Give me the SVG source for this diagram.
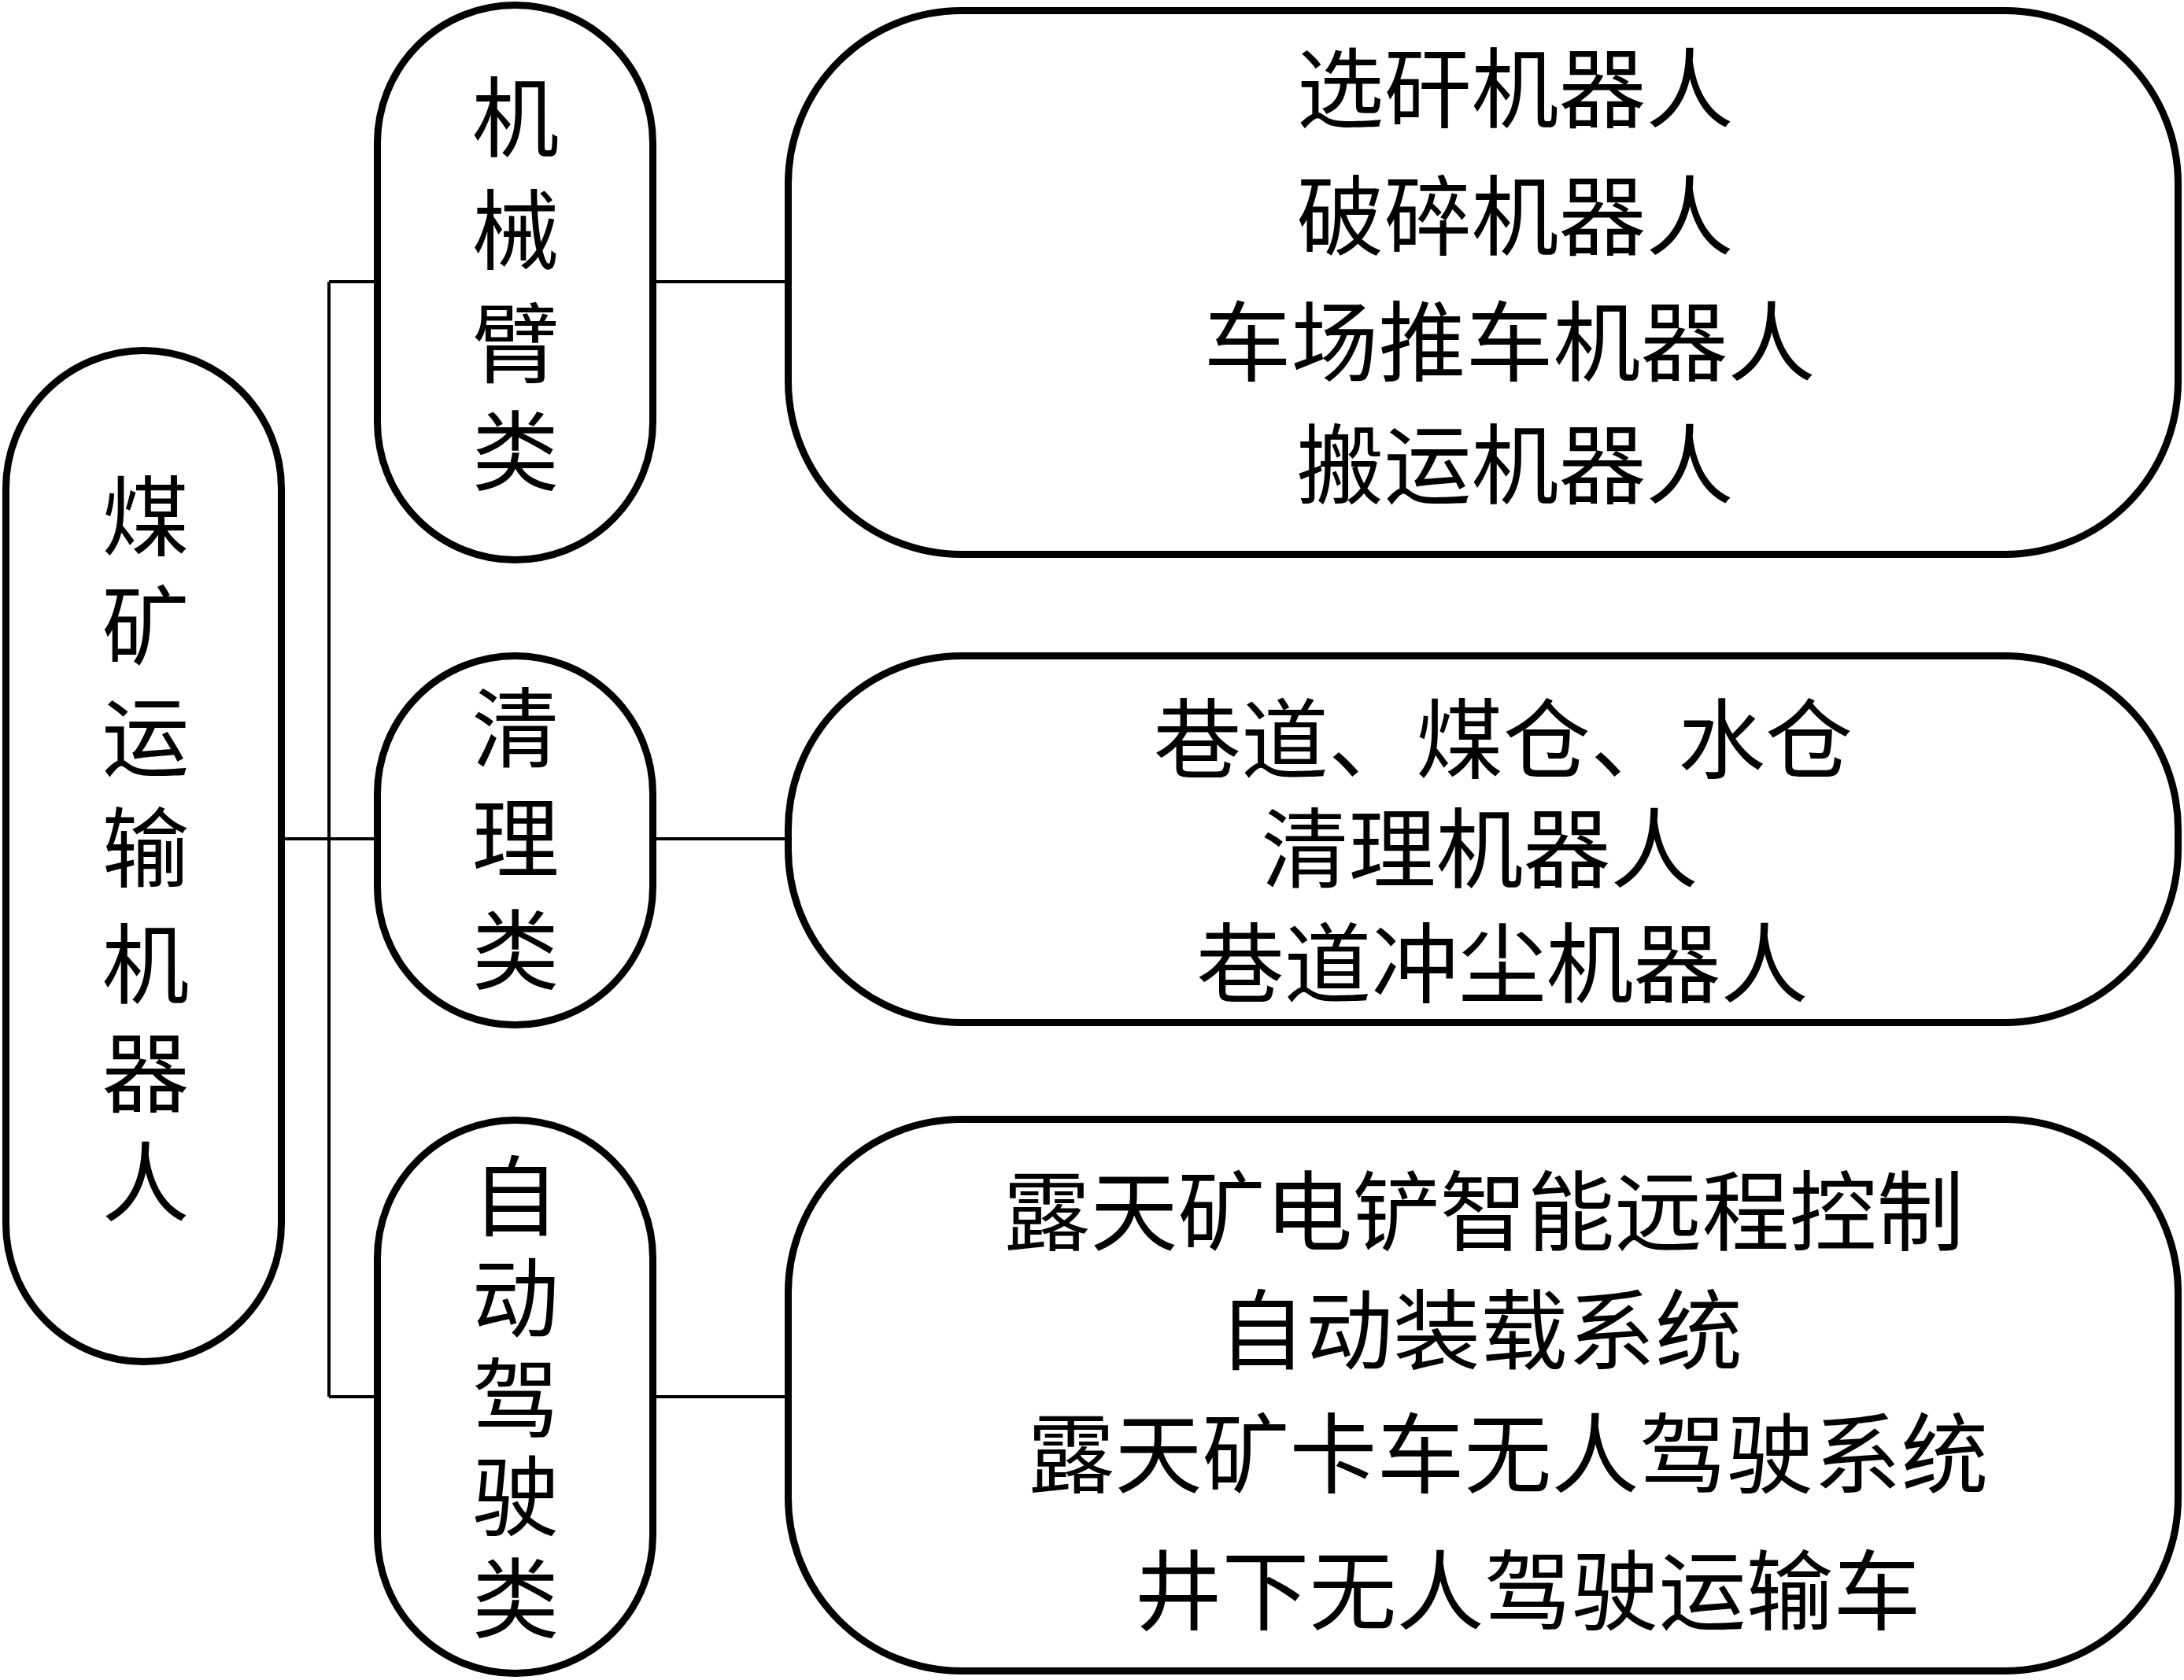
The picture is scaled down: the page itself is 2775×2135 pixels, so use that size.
<svg xmlns="http://www.w3.org/2000/svg" width="2775" height="2135" viewBox="0 0 2775 2135">
<style>
.shape{fill:#fff;stroke:#000;stroke-width:9}
.conn{stroke:#000;stroke-width:4;fill:none}
text{font-family:"Noto Sans CJK SC","Noto Sans CJK TC",sans-serif;font-size:111px;fill:#000;text-anchor:middle}
</style>
<rect width="2775" height="2135" fill="#fff"/>
<g id="connectors">
<path class="conn" d="M418 358V1775M418 358H479M362 1066H479M418 1775H479M830 358H1002M830 1066H1002M830 1775H1002"/>
</g>
<g id="root">
<rect class="shape" x="7.5" y="445.5" width="350" height="1285" rx="175" ry="175"/>
<text x="185" y="698">煤</text>
<text x="185" y="837">矿</text>
<text x="185" y="978">运</text>
<text x="185" y="1119">输</text>
<text x="185" y="1267">机</text>
<text x="185" y="1405">器</text>
<text x="185" y="1544">人</text>
</g>
<g id="cat1">
<rect class="shape" x="479.5" y="6.5" width="350" height="705" rx="175" ry="175"/>
<text x="655" y="191">机</text>
<text x="655" y="334">械</text>
<text x="655" y="478">臂</text>
<text x="655" y="615">类</text>
</g>
<g id="cat2">
<rect class="shape" x="479.5" y="833.5" width="350" height="469" rx="175" ry="175"/>
<text x="655" y="967">清</text>
<text x="655" y="1107">理</text>
<text x="655" y="1249">类</text>
</g>
<g id="cat3">
<rect class="shape" x="479.5" y="1423.5" width="350" height="703" rx="175" ry="175"/>
<text x="655" y="1562">自</text>
<text x="655" y="1691">动</text>
<text x="655" y="1819">驾</text>
<text x="655" y="1943">驶</text>
<text x="655" y="2073">类</text>
</g>
<g id="list1">
<rect class="shape" x="1001.5" y="13.5" width="1766" height="691" rx="220" ry="220"/>
<text x="1925" y="154">选矸机器人</text>
<text x="1925" y="316">破碎机器人</text>
<text x="1918" y="476">车场推车机器人</text>
<text x="1925" y="632">搬运机器人</text>
</g>
<g id="list2">
<rect class="shape" x="1001.5" y="833.5" width="1766" height="466" rx="220" ry="220"/>
<text x="1910" y="981">巷道、煤仓、水仓</text>
<text x="1880" y="1120">清理机器人</text>
<text x="1909" y="1266">巷道冲尘机器人</text>
</g>
<g id="list3">
<rect class="shape" x="1001.5" y="1422.5" width="1766" height="701" rx="220" ry="220"/>
<text x="1885" y="1581">露天矿电铲智能远程控制</text>
<text x="1881" y="1732">自动装载系统</text>
<text x="1916" y="1889">露天矿卡车无人驾驶系统</text>
<text x="1941" y="2063">井下无人驾驶运输车</text>
</g>
</svg>
